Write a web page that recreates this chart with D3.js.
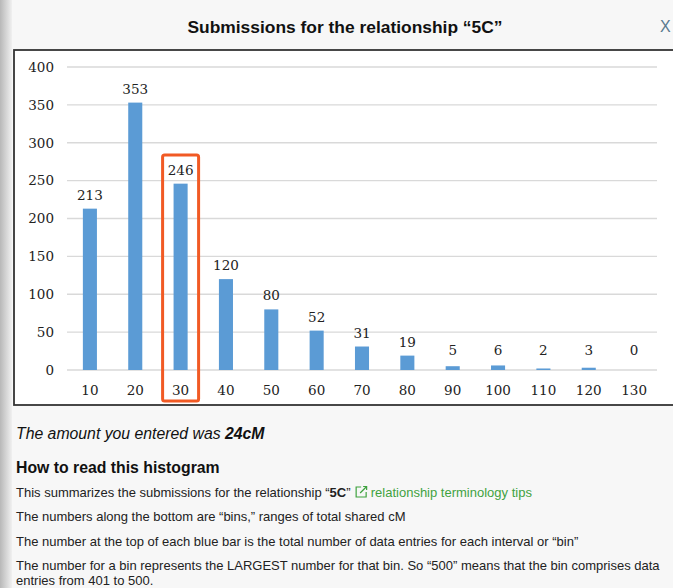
<!DOCTYPE html>
<html><head><meta charset="utf-8">
<script src="https://cdn.jsdelivr.net/npm/d3@7"></script>
<style>
html,body{margin:0;padding:0;width:673px;height:588px;overflow:hidden;background:#f7f7f7;}
</style></head>
<body>
<svg id="c" width="673" height="588"></svg>
<script>
const bins = ["10","20","30","40","50","60","70","80","90","100","110","120","130"];
const counts = [213,353,246,120,80,52,31,19,5,6,2,3,0];
const yTicks = [0,50,100,150,200,250,300,350,400];
const highlightBin = "30";
const titleText = "Submissions for the relationship \u201c5C\u201d";

const svg = d3.select("#c");
const defs = svg.append("defs");
const g1 = defs.append("linearGradient").attr("id","sh").attr("x1","0").attr("x2","1");
g1.append("stop").attr("offset","0").attr("stop-color","#b8b8b8");
g1.append("stop").attr("offset","1").attr("stop-color","#f0f0f0");

svg.append("rect").attr("x",0).attr("y",0).attr("width",673).attr("height",588).attr("fill","#f7f7f7");
svg.append("rect").attr("x",0).attr("y",0).attr("width",12).attr("height",588).attr("fill","url(#sh)");

const sans = "Liberation Sans, Arial, Helvetica, sans-serif";
svg.append("text").attr("x",345).attr("y",33).attr("text-anchor","middle")
  .attr("font-family",sans).attr("font-weight","bold")
  .attr("font-size",17.4).attr("fill","#111").text(titleText);
svg.append("text").attr("x",660).attr("y",32).attr("font-family",sans)
  .attr("font-size",16).attr("fill","#5a7a90").text("X");

// chart box
svg.append("rect").attr("x",14).attr("y",50).attr("width",672).attr("height",355)
  .attr("fill","#ffffff").attr("stroke","#333").attr("stroke-width",1.8);

const x = d3.scaleBand().domain(bins).range([67,657]).paddingInner(0.69).paddingOuter(0.35);
const y = d3.scaleLinear().domain([0,400]).range([370,67]);
const serif = "Georgia, 'DejaVu Serif', 'Liberation Serif', serif";

const grid = svg.append("g");
grid.selectAll("line").data(yTicks).join("line")
  .attr("x1",67).attr("x2",657).attr("y1",d=>y(d)).attr("y2",d=>y(d))
  .attr("stroke","#d9d9d9").attr("stroke-width",1.3);

const yAxis = svg.append("g").attr("transform","translate(54,0)")
  .call(d3.axisLeft(y).tickValues(yTicks).tickSize(0).tickPadding(0));
yAxis.select(".domain").remove();
yAxis.selectAll("text").attr("font-family",serif).attr("font-size",13.5).attr("fill","#222");

const xAxis = svg.append("g").attr("transform","translate(0,385)")
  .call(d3.axisBottom(x).tickSize(0).tickPadding(0));
xAxis.select(".domain").remove();
xAxis.selectAll("text").attr("font-family",serif).attr("font-size",13.5).attr("fill","#222");

svg.append("g").selectAll("rect").data(counts).join("rect")
  .attr("x",(d,i)=>x(bins[i])).attr("width",x.bandwidth())
  .attr("y",d=>y(d)).attr("height",d=>Math.max(0,y(0)-y(d)))
  .attr("fill","#5b9bd5");

svg.append("g").selectAll("text").data(counts).join("text")
  .attr("x",(d,i)=>x(bins[i])+x.bandwidth()/2).attr("y",d=>Math.min(y(d),y(0)-6)-9)
  .attr("text-anchor","middle").attr("font-family",serif).attr("font-size",13.5).attr("fill","#222")
  .text(d=>d);

// highlight
const hx = x(highlightBin)+x.bandwidth()/2;
svg.append("rect").attr("x",hx-18).attr("y",155).attr("width",36).attr("height",246)
  .attr("rx",2).attr("fill","none").attr("stroke","#f15a24").attr("stroke-width",3);

const t1 = svg.append("text").attr("x",16).attr("y",439).attr("font-family",sans).attr("font-size",15.8)
  .attr("font-style","italic").attr("fill","#111");
t1.append("tspan").text("The amount you entered was ");
t1.append("tspan").attr("font-weight","bold").text("24cM");

svg.append("text").attr("x",16).attr("y",473).attr("font-family",sans).attr("font-size",15.8)
  .attr("font-weight","bold").attr("fill","#111").text("How to read this histogram");

const l1 = svg.append("text").attr("x",16).attr("y",497).attr("font-family",sans).attr("font-size",13).attr("fill","#222");
l1.append("tspan").text("This summarizes the submissions for the relationship \u201c");
l1.append("tspan").attr("font-weight","bold").text("5C");
l1.append("tspan").text("\u201d ");
const iconSpan = l1.append("tspan").text("\u2003");
l1.append("tspan").attr("fill","#3fa23f").text(" relationship terminology tips");
// external-link icon
const preLen = (function(){ const n=l1.node(); return n.getSubStringLength(0, n.textContent.indexOf("\u2003")); })();
const ix = 16 + preLen + 1, iy = 486;
const ic = svg.append("g").attr("transform",`translate(${ix},${iy})`).attr("fill","none")
  .attr("stroke","#3fa23f").attr("stroke-width",1.2);
ic.append("path").attr("d","M6,1 H1 V11 H11 V6");
ic.append("path").attr("d","M5,7 L11.5,0.5 M8,0.5 H11.5 V4");

const lines = [
 ["The numbers along the bottom are \u201cbins,\u201d ranges of total shared cM",521],
 ["The number at the top of each blue bar is the total number of data entries for each interval or \u201cbin\u201d",546],
 ["The number for a bin represents the LARGEST number for that bin. So \u201c500\u201d means that the bin comprises data",570],
 ["entries from 401 to 500.",585]
];
svg.append("g").selectAll("text").data(lines).join("text")
  .attr("x",16).attr("y",d=>d[1]).attr("font-family",sans).attr("font-size",13).attr("fill","#222")
  .text(d=>d[0]);
</script>
</body></html>
